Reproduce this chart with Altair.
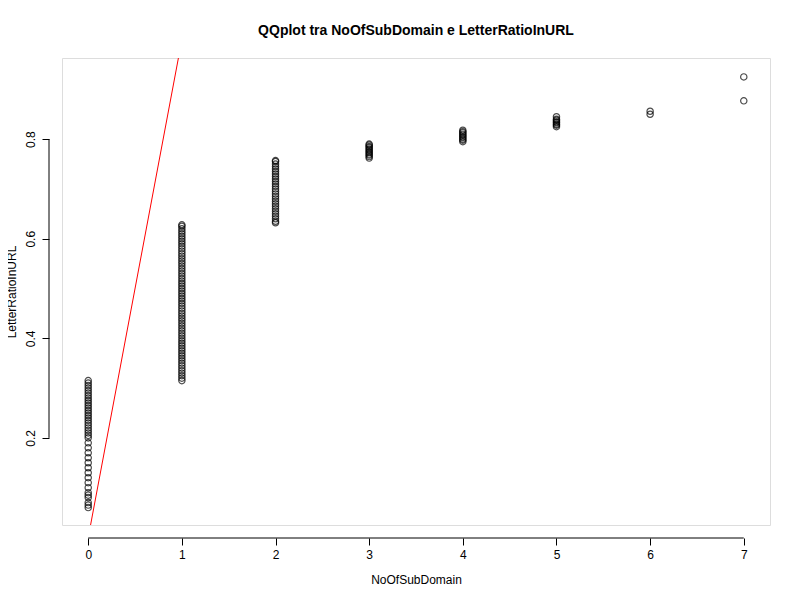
import altair as alt
import pandas as pd

col0 = [0.06, 0.065, 0.07, 0.08, 0.085, 0.09, 0.10, 0.11, 0.12, 0.13, 0.14, 0.15,
        0.16, 0.17, 0.18, 0.19, 0.20, 0.205, 0.21, 0.215, 0.22, 0.225, 0.23, 0.235,
        0.24, 0.245, 0.25, 0.255, 0.26, 0.265, 0.27, 0.275, 0.28, 0.285, 0.29,
        0.295, 0.30, 0.305, 0.31, 0.315]
col1 = [0.315, 0.32, 0.325, 0.33, 0.335, 0.34, 0.345, 0.35, 0.355, 0.36, 0.365,
        0.37, 0.375, 0.38, 0.385, 0.39, 0.395, 0.40, 0.405, 0.41, 0.415, 0.42,
        0.425, 0.43, 0.435, 0.44, 0.445, 0.45, 0.455, 0.46, 0.465, 0.47, 0.475,
        0.48, 0.485, 0.49, 0.495, 0.50, 0.505, 0.51, 0.515, 0.52, 0.525, 0.53,
        0.535, 0.54, 0.545, 0.55, 0.555, 0.56, 0.565, 0.57, 0.575, 0.58, 0.585,
        0.59, 0.595, 0.60, 0.605, 0.61, 0.615, 0.62, 0.625, 0.628]
col2 = [0.632, 0.635, 0.64, 0.645, 0.65, 0.655, 0.66, 0.665, 0.67, 0.675, 0.68,
        0.685, 0.69, 0.695, 0.70, 0.705, 0.71, 0.715, 0.72, 0.725, 0.73, 0.735,
        0.74, 0.745, 0.75, 0.755, 0.757]
col3 = [0.762, 0.765, 0.768, 0.77, 0.773, 0.775, 0.778, 0.78, 0.783, 0.785, 0.788, 0.79]
col4 = [0.795, 0.798, 0.80, 0.803, 0.805, 0.808, 0.81, 0.813, 0.815, 0.818]
col5 = [0.825, 0.828, 0.83, 0.833, 0.835, 0.838, 0.84, 0.845]
col6 = [0.85, 0.856]
col7 = [0.877, 0.925]
columns = [col0, col1, col2, col3, col4, col5, col6, col7]

pts = pd.DataFrame(
    [{"x": i, "y": v} for i, col in enumerate(columns) for v in col]
)
ref = pd.DataFrame({"x": [0, 1.2], "y": [0, 1.2]})
xaxis = pd.DataFrame({"a": [0], "b": [7]})
yaxis = pd.DataFrame({"a": [0.2], "b": [0.8]})

xs = alt.Scale(domain=[-0.28, 7.28], nice=False, zero=False)
ys = alt.Scale(domain=[0.025, 0.963], nice=False, zero=False)

xax = alt.Axis(values=list(range(8)), format="d", domain=False, offset=13, tickSize=7,
               tickColor="black", labelColor="black", labelFontSize=12,
               labelPadding=4, grid=False, titleFontSize=12, titleFontWeight="normal",
               titlePadding=14, titleColor="black")
yax = alt.Axis(values=[0.2, 0.4, 0.6, 0.8], domain=False, offset=13, tickSize=7,
               tickColor="black", labelColor="black", labelFontSize=12, labelAngle=-90,
               labelAlign="center", labelBaseline="bottom", labelPadding=5, grid=False,
               titleFontSize=12, titleFontWeight="normal", titlePadding=6,
               titleColor="black")

points = alt.Chart(pts).mark_point(
    shape="circle", size=40, color="black", strokeWidth=1.2, filled=False
).encode(
    x=alt.X("x:Q", scale=xs, axis=xax, title="NoOfSubDomain"),
    y=alt.Y("y:Q", scale=ys, axis=yax, title="LetterRatioInURL"),
)
line = alt.Chart(ref).mark_line(color="red", strokeWidth=1, clip=True).encode(
    x=alt.X("x:Q", scale=xs), y=alt.Y("y:Q", scale=ys)
)
xline = alt.Chart(xaxis).mark_rule(color="black").encode(
    x=alt.X("a:Q", scale=xs), x2="b:Q", y=alt.value(480)
)
yline = alt.Chart(yaxis).mark_rule(color="black").encode(
    y=alt.Y("a:Q", scale=ys), y2="b:Q", x=alt.value(-13)
)

chart = (line + points + xline + yline).properties(
    width=708, height=467,
    title=alt.TitleParams("QQplot tra NoOfSubDomain e LetterRatioInURL",
                          fontSize=14, fontWeight="bold", anchor="middle",
                          offset=20, color="black"),
    autosize="none",
    padding={"left": 54, "top": 50, "right": 14, "bottom": 60},
).configure_view(stroke="black", strokeWidth=1).configure(
    font="Liberation Sans"
).configure_title(font="Liberation Sans")

chart.save("out.html", embed_options={"renderer": "svg", "actions": False})
